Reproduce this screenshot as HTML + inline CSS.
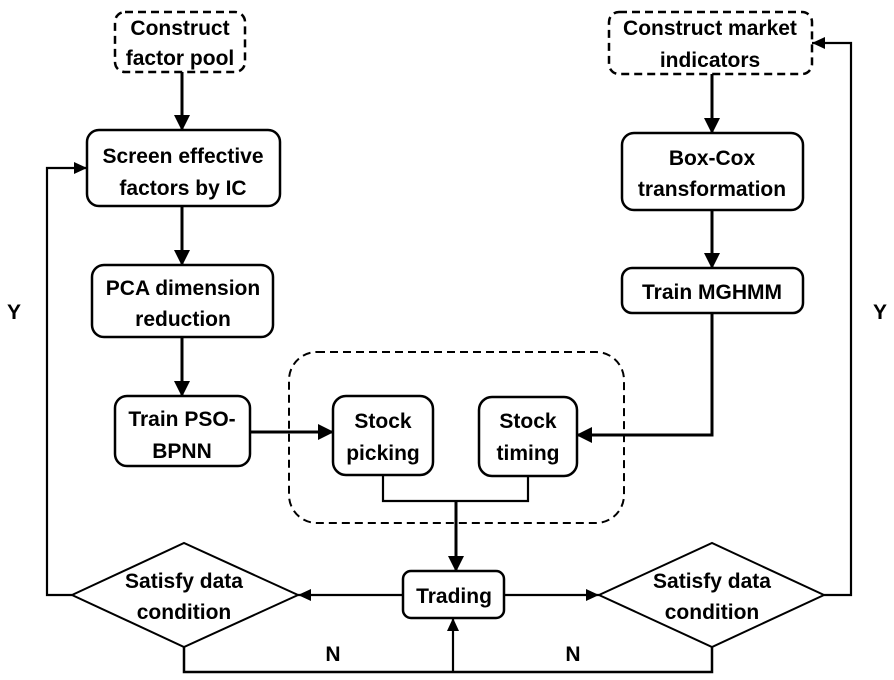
<!DOCTYPE html>
<html><head><meta charset="utf-8"><style>
html,body{margin:0;padding:0;background:#fff;}
svg{display:block;}
text{font-family:"Liberation Sans",sans-serif;font-weight:bold;font-size:21px;fill:#000;text-anchor:middle;}
</style></head><body>
<svg width="894" height="680" viewBox="0 0 894 680" xmlns="http://www.w3.org/2000/svg">
<defs>
<marker id="a" markerWidth="14" markerHeight="14" refX="13" refY="6" orient="auto" markerUnits="userSpaceOnUse">
<path d="M0,0 L13,6 L0,12 z" fill="#000"/></marker>
<marker id="b" markerWidth="16" markerHeight="16" refX="15" refY="8" orient="auto" markerUnits="userSpaceOnUse">
<path d="M0,0 L16,8 L0,16 z" fill="#000"/></marker>
</defs>
<g fill="none" stroke="#000" stroke-width="2.5">
<rect x="115" y="12" width="130" height="60" rx="10" stroke-dasharray="8,5"/>
<rect x="609" y="12" width="203" height="62" rx="10" stroke-dasharray="8,5"/>
<rect x="289" y="352" width="335" height="171" rx="28" stroke-dasharray="8,5" stroke-width="2"/>
<rect x="87" y="130" width="193" height="76" rx="12"/>
<rect x="92" y="265" width="181" height="72" rx="12"/>
<rect x="115" y="396" width="135" height="70" rx="12"/>
<rect x="333" y="396" width="100" height="79" rx="13"/>
<rect x="479" y="397" width="98" height="79" rx="13"/>
<rect x="622" y="133" width="181" height="77" rx="12"/>
<rect x="622" y="268" width="181" height="45" rx="10"/>
<rect x="403" y="571" width="101" height="47" rx="8"/>
<path d="M72,595 L184,543 L298,595 L184,647 Z" stroke-width="2"/>
<path d="M599,595 L712,543 L824,595 L712,647 Z" stroke-width="2"/>
</g>
<g fill="none" stroke="#000" stroke-width="3">
<line x1="182" y1="72" x2="182" y2="130" marker-end="url(#b)"/>
<line x1="182" y1="206" x2="182" y2="265" marker-end="url(#b)"/>
<line x1="182" y1="337" x2="182" y2="396" marker-end="url(#b)"/>
<line x1="250" y1="432" x2="333" y2="432" marker-end="url(#b)"/>
<line x1="712" y1="74" x2="712" y2="133" marker-end="url(#b)"/>
<line x1="712" y1="210" x2="712" y2="268" marker-end="url(#b)"/>
<polyline points="712,313 712,435 577,435" marker-end="url(#b)"/>
<line x1="456" y1="501" x2="456" y2="571" marker-end="url(#b)"/>
</g>
<g fill="none" stroke="#000" stroke-width="2.2">
<polyline points="383,475 383,501 528,501 528,476"/>
<line x1="403" y1="595" x2="298" y2="595" marker-end="url(#a)"/>
<line x1="504" y1="595" x2="599" y2="595" marker-end="url(#a)"/>
<polyline points="184,647 184,672 712,672 712,647" stroke-width="2.5"/>
<line x1="453" y1="672" x2="453" y2="618" marker-end="url(#a)"/>
<polyline points="72,595 47,595 47,168 87,168" marker-end="url(#a)"/>
<polyline points="824,595 851,595 851,43 812,43" marker-end="url(#a)"/>
</g>
<text x="180" y="35">Construct</text>
<text x="180" y="65">factor pool</text>
<text x="710" y="35">Construct market</text>
<text x="710" y="67">indicators</text>
<text x="183" y="163">Screen effective</text>
<text x="183" y="195">factors by IC</text>
<text x="183" y="295">PCA dimension</text>
<text x="183" y="326">reduction</text>
<text x="182" y="426">Train PSO-</text>
<text x="182" y="458">BPNN</text>
<text x="383" y="428">Stock</text>
<text x="383" y="460">picking</text>
<text x="528" y="428">Stock</text>
<text x="528" y="460">timing</text>
<text x="712" y="165">Box-Cox</text>
<text x="712" y="196">transformation</text>
<text x="712" y="299">Train MGHMM</text>
<text x="454" y="603">Trading</text>
<text x="184" y="588">Satisfy data</text>
<text x="184" y="619">condition</text>
<text x="712" y="588">Satisfy data</text>
<text x="712" y="619">condition</text>
<text x="333" y="661">N</text>
<text x="573" y="661">N</text>
<text x="14" y="319">Y</text>
<text x="880" y="319">Y</text>
</svg>
</body></html>
